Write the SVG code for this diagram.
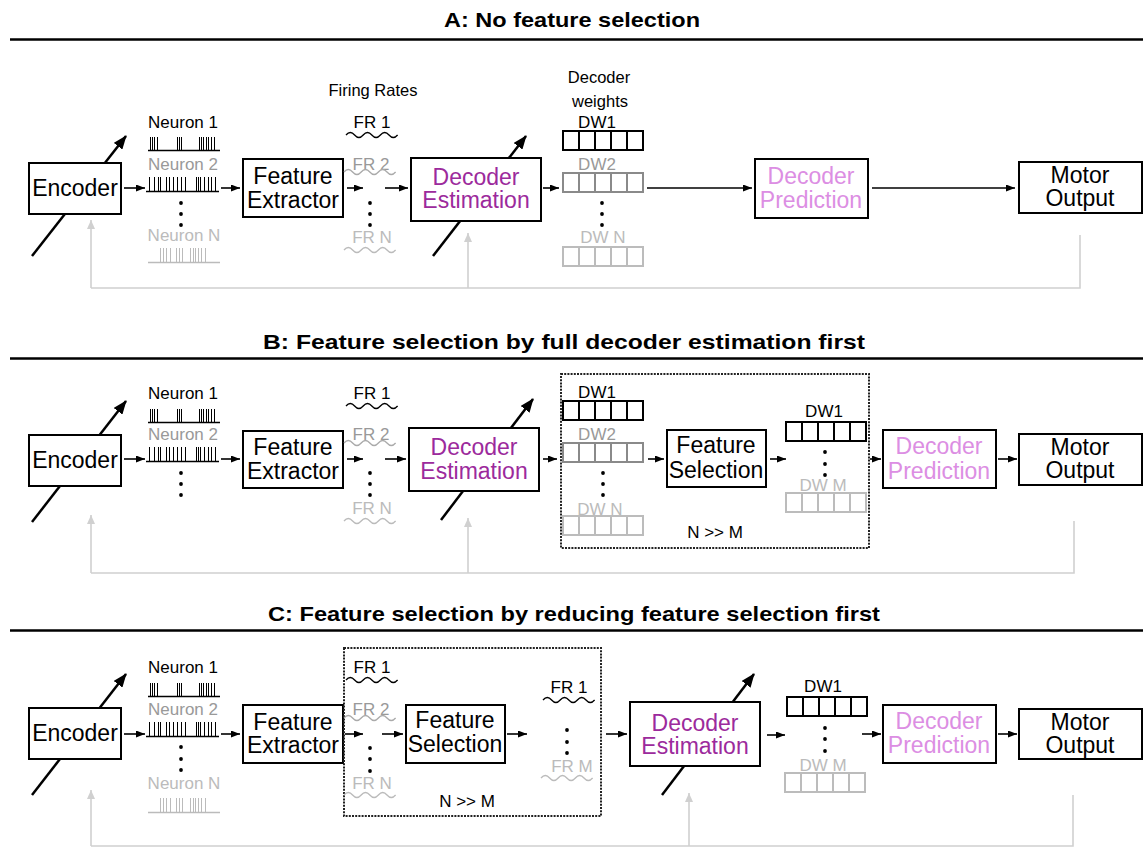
<svg xmlns="http://www.w3.org/2000/svg" xmlns:xlink="http://www.w3.org/1999/xlink" width="1143" height="848" viewBox="0 0 1143 848">
<style>
text{font-family:"Liberation Sans",Arial,sans-serif;}
.title{font-weight:bold;font-size:21px;text-anchor:middle;fill:#000;}
.rule{stroke:#000;stroke-width:2.5;}
.box{fill:#fff;stroke:#000;stroke-width:2;}
.bt{font-size:23px;text-anchor:middle;fill:#000;}
.est{fill:#9c2a9c;}
.pred{fill:#dc8ee3;}
.lab{font-size:17px;text-anchor:middle;fill:#000;}
.g2{fill:#999;}
.g3{fill:#bbb;}
.arr{stroke:#000;stroke-width:1.6;fill:none;marker-end:url(#ah);}
.diag{stroke:#000;stroke-width:2.5;fill:none;marker-end:url(#ahBig);}
.fb{stroke:#d0d0d0;stroke-width:1.6;fill:none;}
.fba{stroke:#d0d0d0;stroke-width:1.6;fill:none;marker-end:url(#ahGray);}
.dash{fill:none;stroke:#222;stroke-width:2;stroke-dasharray:2 1.2;}
.dw1{stroke:#000;fill:none;stroke-width:2;}
.dw2{stroke:#8a8a8a;fill:none;stroke-width:2;}
.dw3{stroke:#bcbcbc;fill:none;stroke-width:2;}
.w1{stroke:#000;fill:none;stroke-width:1.3;}
.w2{stroke:#aaa;fill:none;stroke-width:1.3;}
.w3{stroke:#bbb;fill:none;stroke-width:1.3;}
.dot{fill:#000;}
</style>
<defs>
<marker id="ah" markerUnits="userSpaceOnUse" markerWidth="9" markerHeight="7" refX="9" refY="3.5" orient="auto"><path d="M0,0 L9,3.5 L0,7 z" fill="#000"/></marker>
<marker id="ahBig" markerUnits="userSpaceOnUse" markerWidth="14" markerHeight="11" refX="13" refY="5.5" orient="auto"><path d="M0,0 L14,5.5 L0,11 z" fill="#000"/></marker>
<marker id="ahGray" markerUnits="userSpaceOnUse" markerWidth="9" markerHeight="8" refX="9" refY="4" orient="auto"><path d="M0,0 L9,4 L0,8 z" fill="#d0d0d0"/></marker>
<g id="dwArr"><rect x="0" y="0" width="80" height="19"/><path d="M16,0 V19 M32,0 V19 M48,0 V19 M64,0 V19"/></g>
<path id="wave" d="M0,0 q4.3,-5 8.6,0 t8.6,0 t8.6,0 t8.6,0 t8.6,0 t8.6,0"/>
<g id="r1" stroke="#000" stroke-width="1"><path d="M0,0.5 H72" stroke-width="1.5"/><path d="M2.5,0 V-13 M4.5,0 V-13 M6.5,0 V-13 M9.5,0 V-13 M29.5,0 V-13 M31.5,0 V-13 M33.5,0 V-13 M51.5,0 V-13 M53.5,0 V-13 M55.5,0 V-13 M58.5,0 V-13 M60.5,0 V-13 M63.5,0 V-13 M66.5,0 V-13"/></g>
<g id="r2" stroke="#000" stroke-width="1"><path d="M-2,0.5 H71" stroke-width="1.5"/><path d="M1.5,0 V-14 M6.5,0 V-14 M10.5,0 V-14 M12.5,0 V-14 M18.5,0 V-14 M21.5,0 V-14 M25.5,0 V-14 M29.5,0 V-14 M33.5,0 V-14 M37.5,0 V-14 M48.5,0 V-14 M50.5,0 V-14 M52.5,0 V-14 M56.5,0 V-14 M60.5,0 V-14 M63.5,0 V-14 M67.5,0 V-14"/></g>
<g id="rN" stroke="#bbb" stroke-width="1"><path d="M0,0.5 H72" stroke-width="1.5"/><path d="M12.5,0 V-14 M15.5,0 V-14 M18.5,0 V-14 M22.5,0 V-14 M28.5,0 V-14 M31.5,0 V-14 M34.5,0 V-14 M42.5,0 V-14 M45.5,0 V-14 M47.5,0 V-14 M50.5,0 V-14 M53.5,0 V-14 M57.5,0 V-14"/></g>
</defs>
<rect width="1143" height="848" fill="#fff"/>

<!-- Titles -->
<g id="titles">
<text class="title" x="572" y="27" textLength="256" lengthAdjust="spacingAndGlyphs">A: No feature selection</text>
<line class="rule" x1="10" y1="39.5" x2="1143" y2="39.5"/>
<text class="title" x="564" y="349" textLength="602" lengthAdjust="spacingAndGlyphs">B: Feature selection by full decoder estimation first</text>
<line class="rule" x1="10" y1="358.5" x2="1143" y2="358.5"/>
<text class="title" x="574" y="621" textLength="612" lengthAdjust="spacingAndGlyphs">C: Feature selection by reducing feature selection first</text>
<line class="rule" x1="10" y1="630.5" x2="1143" y2="630.5"/>
</g>

<!-- Connectors -->
<g id="connectors">
<!-- A -->
<line class="diag" x1="32" y1="256" x2="126" y2="136"/>
<line class="diag" x1="433" y1="256" x2="526" y2="136"/>
<line class="arr" x1="124" y1="188" x2="145" y2="188"/>
<line class="arr" x1="221" y1="188" x2="240" y2="188"/>
<line class="arr" x1="347" y1="188" x2="363" y2="188"/>
<line class="arr" x1="385" y1="188" x2="408" y2="188"/>
<line class="arr" x1="543" y1="188" x2="559" y2="188"/>
<line class="arr" x1="647" y1="188" x2="752" y2="188"/>
<line class="arr" x1="872" y1="188" x2="1015" y2="188"/>
<path class="fb" d="M1080,235 V288 H91"/>
<line class="fba" x1="91" y1="288" x2="91" y2="220"/>
<line class="fba" x1="468" y1="288" x2="468" y2="233"/>
<!-- B -->
<line class="diag" x1="32" y1="522" x2="126" y2="401"/>
<line class="diag" x1="441" y1="520" x2="533" y2="399"/>
<line class="arr" x1="124" y1="459" x2="145" y2="459"/>
<line class="arr" x1="221" y1="459" x2="240" y2="459"/>
<line class="arr" x1="347" y1="459" x2="363" y2="459"/>
<line class="arr" x1="385" y1="459" x2="406" y2="459"/>
<line class="arr" x1="543" y1="459" x2="557" y2="459"/>
<line class="arr" x1="648" y1="459" x2="664" y2="459"/>
<line class="arr" x1="770" y1="459" x2="786" y2="459"/>
<line class="arr" x1="870" y1="459" x2="881" y2="459"/>
<line class="arr" x1="998" y1="459" x2="1017" y2="459"/>
<path class="fb" d="M1074,521 V573 H91"/>
<line class="fba" x1="91" y1="573" x2="91" y2="515"/>
<line class="fba" x1="468" y1="573" x2="468" y2="518"/>
<!-- C -->
<line class="diag" x1="32" y1="795" x2="126" y2="674"/>
<line class="diag" x1="662" y1="795" x2="754" y2="674"/>
<line class="arr" x1="124" y1="734" x2="145" y2="734"/>
<line class="arr" x1="221" y1="734" x2="240" y2="734"/>
<line class="arr" x1="345" y1="734" x2="363" y2="734"/>
<line class="arr" x1="382" y1="734" x2="403" y2="734"/>
<line class="arr" x1="507" y1="734" x2="527" y2="734"/>
<line class="arr" x1="606" y1="734" x2="627" y2="734"/>
<line class="arr" x1="767" y1="735" x2="785" y2="735"/>
<line class="arr" x1="862" y1="734" x2="881" y2="734"/>
<line class="arr" x1="998" y1="734" x2="1017" y2="734"/>
<path class="fb" d="M1073,795 V846 H91"/>
<line class="fba" x1="91" y1="846" x2="91" y2="790"/>
<line class="fba" x1="689" y1="846" x2="689" y2="793"/>
</g>

<!-- ===== Panel A ===== -->
<g id="A-encoder"><rect class="box" x="29" y="163" width="92" height="51"/><text class="bt" x="75" y="196">Encoder</text></g>
<g id="A-neurons">
<text class="lab" x="183" y="128">Neuron 1</text>
<use href="#r1" x="148" y="150"/>
<text class="lab g2" x="183" y="170">Neuron 2</text>
<use href="#r2" x="148" y="191"/>
<circle class="dot" cx="181" cy="203" r="1.9"/><circle class="dot" cx="181" cy="214" r="1.9"/><circle class="dot" cx="181" cy="225" r="1.9"/>
<text class="lab g3" x="184" y="241">Neuron N</text>
<use href="#rN" x="148" y="262"/>
</g>
<g id="A-extractor"><rect class="box" x="243" y="159" width="100" height="58"/><text class="bt" x="293" y="184">Feature</text><text class="bt" x="293" y="208">Extractor</text></g>
<g id="A-firing">
<text class="lab" x="373" y="96" style="font-size:16.5px">Firing Rates</text>
<text class="lab" x="372" y="128">FR 1</text>
<use href="#wave" class="w1" x="346" y="135"/>
<text class="lab g2" x="371" y="170">FR 2</text>
<use href="#wave" class="w2" x="344" y="172"/>
<circle class="dot" cx="370" cy="203" r="1.9"/><circle class="dot" cx="370" cy="214" r="1.9"/><circle class="dot" cx="370" cy="225" r="1.9"/>
<text class="lab g3" x="372" y="243">FR N</text>
<use href="#wave" class="w3" x="344" y="250"/>
</g>
<g id="A-estimation"><rect class="box" x="411" y="158" width="130" height="63"/><text class="bt est" x="476" y="185">Decoder</text><text class="bt est" x="476" y="208">Estimation</text></g>
<g id="A-weights">
<text class="lab" x="599" y="83" style="font-size:16.5px">Decoder</text>
<text class="lab" x="600" y="107" style="font-size:16.5px">weights</text>
<text class="lab" x="597" y="128">DW1</text>
<use href="#dwArr" class="dw1" x="563" y="131"/>
<text class="lab g2" x="597" y="170">DW2</text>
<use href="#dwArr" class="dw2" x="563" y="173"/>
<circle class="dot" cx="602" cy="203" r="1.9"/><circle class="dot" cx="602" cy="214" r="1.9"/><circle class="dot" cx="602" cy="225" r="1.9"/>
<text class="lab g3" x="603" y="243">DW N</text>
<use href="#dwArr" class="dw3" x="563" y="247"/>
</g>
<g id="A-prediction"><rect class="box" x="755" y="159" width="113" height="59"/><text class="bt pred" x="811" y="184">Decoder</text><text class="bt pred" x="811" y="208">Prediction</text></g>
<g id="A-motor"><rect class="box" x="1019" y="162" width="123" height="51"/><text class="bt" x="1080" y="183">Motor</text><text class="bt" x="1080" y="206">Output</text></g>

<!-- ===== Panel B ===== -->
<g id="B-encoder"><rect class="box" x="29" y="435" width="92" height="51"/><text class="bt" x="75" y="468">Encoder</text></g>
<g id="B-neurons">
<text class="lab" x="183" y="399">Neuron 1</text>
<use href="#r1" x="148" y="422"/>
<text class="lab g2" x="183" y="440">Neuron 2</text>
<use href="#r2" x="148" y="461"/>
<circle class="dot" cx="181" cy="473" r="1.9"/><circle class="dot" cx="181" cy="484" r="1.9"/><circle class="dot" cx="181" cy="495" r="1.9"/>
</g>
<g id="B-extractor"><rect class="box" x="243" y="431" width="100" height="57"/><text class="bt" x="293" y="455">Feature</text><text class="bt" x="293" y="479">Extractor</text></g>
<g id="B-firing">
<text class="lab" x="372" y="399">FR 1</text>
<use href="#wave" class="w1" x="346" y="406"/>
<text class="lab g2" x="371" y="440">FR 2</text>
<use href="#wave" class="w2" x="344" y="443"/>
<circle class="dot" cx="370" cy="473" r="1.9"/><circle class="dot" cx="370" cy="484" r="1.9"/><circle class="dot" cx="370" cy="495" r="1.9"/>
<text class="lab g3" x="372" y="514">FR N</text>
<use href="#wave" class="w3" x="344" y="521"/>
</g>
<g id="B-estimation"><rect class="box" x="409" y="428" width="130" height="63"/><text class="bt est" x="474" y="455">Decoder</text><text class="bt est" x="474" y="479">Estimation</text></g>
<g id="B-selection-block">
<rect class="dash" x="561" y="374" width="308" height="174"/>
<text class="lab" x="597" y="398">DW1</text>
<use href="#dwArr" class="dw1" x="563" y="401"/>
<text class="lab g2" x="597" y="440">DW2</text>
<use href="#dwArr" class="dw2" x="563" y="443"/>
<circle class="dot" cx="603" cy="473" r="1.9"/><circle class="dot" cx="603" cy="484" r="1.9"/><circle class="dot" cx="603" cy="495" r="1.9"/>
<text class="lab g3" x="600" y="515">DW N</text>
<use href="#dwArr" class="dw3" x="563" y="516"/>
<text class="lab" x="824" y="417">DW1</text>
<use href="#dwArr" class="dw1" x="786" y="422"/>
<circle class="dot" cx="825" cy="452" r="1.9"/><circle class="dot" cx="825" cy="464" r="1.9"/><circle class="dot" cx="825" cy="475" r="1.9"/>
<text class="lab g3" x="823" y="491">DW M</text>
<use href="#dwArr" class="dw3" x="786" y="493"/>
<text class="lab" x="715" y="538">N &gt;&gt; M</text>
</g>
<g id="B-featsel"><rect class="box" x="667" y="430" width="99" height="57"/><text class="bt" x="716" y="453">Feature</text><text class="bt" x="716" y="478">Selection</text></g>
<g id="B-prediction"><rect class="box" x="883" y="430" width="113" height="58"/><text class="bt pred" x="939" y="454">Decoder</text><text class="bt pred" x="939" y="479">Prediction</text></g>
<g id="B-motor"><rect class="box" x="1019" y="434" width="123" height="51"/><text class="bt" x="1080" y="455">Motor</text><text class="bt" x="1080" y="478">Output</text></g>

<!-- ===== Panel C ===== -->
<g id="C-encoder"><rect class="box" x="29" y="708" width="92" height="51"/><text class="bt" x="75" y="741">Encoder</text></g>
<g id="C-neurons">
<text class="lab" x="183" y="673">Neuron 1</text>
<use href="#r1" x="148" y="696"/>
<text class="lab g2" x="183" y="715">Neuron 2</text>
<use href="#r2" x="148" y="736"/>
<circle class="dot" cx="181" cy="747" r="1.9"/><circle class="dot" cx="181" cy="759" r="1.9"/><circle class="dot" cx="181" cy="770" r="1.9"/>
<text class="lab g3" x="184" y="789">Neuron N</text>
<use href="#rN" x="148" y="812"/>
</g>
<g id="C-extractor"><rect class="box" x="243" y="705" width="100" height="58"/><text class="bt" x="293" y="730">Feature</text><text class="bt" x="293" y="753">Extractor</text></g>
<g id="C-selection-block">
<rect class="dash" x="344" y="648" width="257" height="168"/>
<text class="lab" x="372" y="673">FR 1</text>
<use href="#wave" class="w1" x="346" y="680"/>
<text class="lab g2" x="371" y="715">FR 2</text>
<use href="#wave" class="w2" x="344" y="718"/>
<circle class="dot" cx="370" cy="748" r="1.9"/><circle class="dot" cx="370" cy="759" r="1.9"/><circle class="dot" cx="370" cy="771" r="1.9"/>
<text class="lab g3" x="372" y="789">FR N</text>
<use href="#wave" class="w3" x="344" y="795"/>
<text class="lab" x="569" y="693">FR 1</text>
<use href="#wave" class="w1" x="543" y="700"/>
<circle class="dot" cx="567" cy="730" r="1.9"/><circle class="dot" cx="567" cy="742" r="1.9"/><circle class="dot" cx="567" cy="753" r="1.9"/>
<text class="lab g3" x="572" y="772">FR M</text>
<use href="#wave" class="w3" x="541" y="778"/>
<text class="lab" x="467" y="807">N &gt;&gt; M</text>
</g>
<g id="C-featsel"><rect class="box" x="406" y="705" width="99" height="58"/><text class="bt" x="455" y="728">Feature</text><text class="bt" x="455" y="752">Selection</text></g>
<g id="C-estimation"><rect class="box" x="630" y="702" width="130" height="64"/><text class="bt est" x="695" y="731">Decoder</text><text class="bt est" x="695" y="754">Estimation</text></g>
<g id="C-weights">
<text class="lab" x="823" y="692">DW1</text>
<use href="#dwArr" class="dw1" x="787" y="697"/>
<circle class="dot" cx="825" cy="728" r="1.9"/><circle class="dot" cx="825" cy="739" r="1.9"/><circle class="dot" cx="825" cy="751" r="1.9"/>
<text class="lab g3" x="823" y="771">DW M</text>
<use href="#dwArr" class="dw3" x="785" y="773"/>
</g>
<g id="C-prediction"><rect class="box" x="883" y="705" width="113" height="58"/><text class="bt pred" x="939" y="729">Decoder</text><text class="bt pred" x="939" y="753">Prediction</text></g>
<g id="C-motor"><rect class="box" x="1019" y="709" width="123" height="50"/><text class="bt" x="1080" y="730">Motor</text><text class="bt" x="1080" y="753">Output</text></g>
</svg>
